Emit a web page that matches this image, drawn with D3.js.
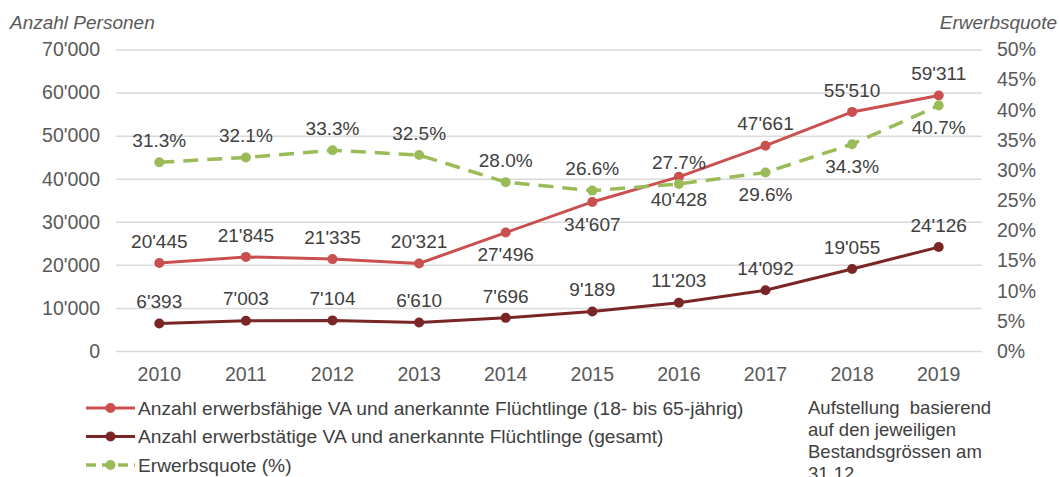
<!DOCTYPE html>
<html>
<head>
<meta charset="utf-8">
<script src="https://cdn.jsdelivr.net/npm/d3@7"></script>
<style>
  body { margin: 0; background: #fff; }
  svg { display: block; font-family: "Liberation Sans", Arial, sans-serif; }
  .tick-label { fill: #595959; font-size: 19.5px; }
  .data-label { fill: #404040; font-size: 19px; }
  .legend-text { fill: #404040; font-size: 19.2px; }
  .note-text { fill: #404040; font-size: 18.5px; }
  .axis-title { fill: #595959; font-size: 19px; font-style: italic; }
</style>
</head>
<body>
<div id="chart"></div>
<script>
// data
const years = ["2010", "2011", "2012", "2013", "2014", "2015", "2016", "2017", "2018", "2019"];
const erwerbsfaehige = [20445, 21845, 21335, 20321, 27496, 34607, 40428, 47661, 55510, 59311];
const erwerbstaetige = [6393, 7003, 7104, 6610, 7696, 9189, 11203, 14092, 19055, 24126];
const erwerbsquote = [31.3, 32.1, 33.3, 32.5, 28.0, 26.6, 27.7, 29.6, 34.3, 40.7];
// label placement: 1 = above the point, 0 = below
const posFaehige = [1, 1, 1, 1, 0, 0, 0, 1, 1, 1];
const posTaetige = [1, 1, 1, 1, 1, 1, 1, 1, 1, 1];
const posQuote = [1, 1, 1, 1, 1, 1, 1, 0, 0, 0];
const leftTicks = [0, 10000, 20000, 30000, 40000, 50000, 60000, 70000];
const rightTicks = [0, 5, 10, 15, 20, 25, 30, 35, 40, 45, 50];
const legendLabels = [
  "Anzahl erwerbsfähige VA und anerkannte Flüchtlinge (18- bis 65-jährig)",
  "Anzahl erwerbstätige VA und anerkannte Flüchtlinge (gesamt)",
  "Erwerbsquote (%)"
];
const noteLines = ["Aufstellung  basierend", "auf den jeweiligen", "Bestandsgrössen am", "31.12."];

const width = 1059, height = 477;
const margin = {top: 49.5, right: 77, bottom: 126, left: 116};
const colors = {faehige: "#c9504f", taetige: "#7a2526", quote: "#9bbb59"};

const svg = d3.select("#chart").append("svg")
  .attr("width", width).attr("height", height);

const x = d3.scalePoint().domain(years)
  .range([margin.left, width - margin.right]).padding(0.5);
const yL = d3.scaleLinear().domain([0, 70000])
  .range([height - margin.bottom, margin.top]);
const yR = d3.scaleLinear().domain([0, 50])
  .range([height - margin.bottom, margin.top]);

const fmt = n => d3.format(",")(n).replace(/,/g, "'");

// grid lines
svg.append("g")
  .attr("transform", "translate(" + margin.left + ",0)")
  .call(d3.axisLeft(yL).tickValues(leftTicks).tickSize(-(width - margin.left - margin.right)).tickFormat(""))
  .call(g => g.select(".domain").remove())
  .call(g => g.selectAll("line").attr("stroke", "#d9d9d9").attr("stroke-width", 1.5));

// left axis labels
svg.append("g").selectAll("text")
  .data(leftTicks).enter().append("text")
    .attr("class", "tick-label")
    .attr("x", 100).attr("y", d => yL(d)).attr("dy", "0.35em")
    .attr("text-anchor", "end")
    .text(fmt);

// right axis labels
svg.append("g").selectAll("text")
  .data(rightTicks).enter().append("text")
    .attr("class", "tick-label")
    .attr("x", 997).attr("y", d => yR(d)).attr("dy", "0.35em")
    .text(d => d + "%");

// x axis labels
svg.append("g").selectAll("text")
  .data(years).enter().append("text")
    .attr("class", "tick-label")
    .attr("x", d => x(d)).attr("y", 374).attr("dy", "0.35em")
    .attr("text-anchor", "middle")
    .text(d => d);

svg.append("text").attr("class", "axis-title")
  .attr("x", 10).attr("y", 22).attr("dy", "0.35em").text("Anzahl Personen");
svg.append("text").attr("class", "axis-title")
  .attr("x", 1057).attr("y", 22).attr("dy", "0.35em").attr("text-anchor", "end").text("Erwerbsquote");

function drawSeries(values, y, color, dashed, pos, label) {
  const line = d3.line().x((d, i) => x(years[i])).y(d => y(d));
  svg.append("path").datum(values)
    .attr("d", line)
    .attr("fill", "none")
    .attr("stroke", color)
    .attr("stroke-width", dashed ? 3.5 : 3)
    .attr("stroke-dasharray", dashed ? "15,9" : null);
  svg.append("g").selectAll("circle")
    .data(values).enter().append("circle")
      .attr("cx", (d, i) => x(years[i])).attr("cy", d => y(d))
      .attr("r", 5).attr("fill", color);
  svg.append("g").selectAll("text")
    .data(values).enter().append("text")
      .attr("class", "data-label")
      .attr("x", (d, i) => x(years[i]))
      .attr("y", (d, i) => y(d) + (pos[i] ? -22 : 22))
      .attr("dy", "0.35em")
      .attr("text-anchor", "middle")
      .text(label);
}

drawSeries(erwerbstaetige, yL, colors.taetige, false, posTaetige, fmt);
drawSeries(erwerbsfaehige, yL, colors.faehige, false, posFaehige, fmt);
drawSeries(erwerbsquote, yR, colors.quote, true, posQuote, d => d.toFixed(1) + "%");

// legend
const legendColors = [colors.faehige, colors.taetige, colors.quote];
const legend = svg.append("g");
legendLabels.forEach((t, i) => {
  const ly = 408 + i * 28.5;
  legend.append("line")
    .attr("x1", 86).attr("x2", 135).attr("y1", ly).attr("y2", ly)
    .attr("stroke", legendColors[i]).attr("stroke-width", i == 2 ? 3.5 : 3)
    .attr("stroke-dasharray", i == 2 ? "10,6" : null);
  legend.append("circle").attr("cx", 110.5).attr("cy", ly).attr("r", 5).attr("fill", legendColors[i]);
  legend.append("text").attr("class", "legend-text")
    .attr("x", 138).attr("y", ly).attr("dy", "0.35em").text(t);
});

svg.append("g").selectAll("text")
  .data(noteLines).enter().append("text")
    .attr("class", "note-text")
    .attr("x", 808).attr("y", (d, i) => 408 + i * 22).attr("dy", "0.35em")
    .attr("xml:space", "preserve")
    .text(d => d);
</script>
</body>
</html>
